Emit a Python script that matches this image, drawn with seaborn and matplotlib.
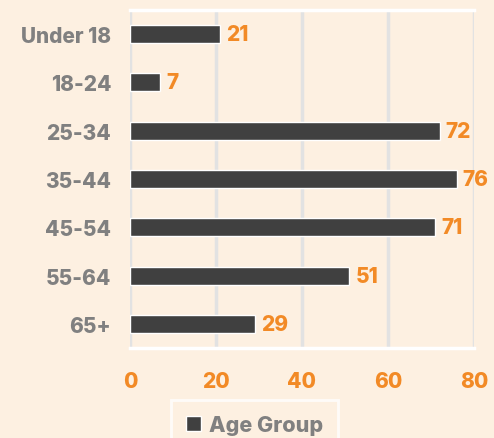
import pandas as pd
import numpy as np
import matplotlib.pyplot as plt
import seaborn as sns

# data
age_groups = ['Under 18', '18-24', '25-34', '35-44', '45-54', '55-64', '65+']
counts = [21, 7, 72, 76, 71, 51, 29]
x_ticks = [0, 20, 40, 60, 80]

bg = '#fdf0e1'
bar_color = '#404040'
orange = '#f28a26'
gray_text = '#808080'
grid_color = '#e2e2e2'

sns.set_theme(style='white')
plt.rcParams['font.family'] = ['Inter', 'DejaVu Sans']
fs = 15
fw = 'heavy'

df = pd.DataFrame({'Age': age_groups, 'Count': counts, 'Series': 'Age Group'})

fig = plt.figure(figsize=(4.94, 4.39), dpi=100, facecolor=bg)
ax = fig.add_axes([0.263, 0.205, 0.6965, 0.77])
ax.set_facecolor(bg)

sns.barplot(data=df, x='Count', y='Age', hue='Series', palette=[bar_color],
            width=0.375, edgecolor='white', linewidth=1, ax=ax, zorder=3)

# value labels
for i, val in enumerate(counts):
    ax.text(val + 1.4, i, str(val), color=orange, fontsize=fs, fontweight=fw,
            va='center', ha='left', zorder=4)

ax.set_xlim(0, 80)
ax.set_xticks(x_ticks)
ax.set_xticklabels([str(t) for t in x_ticks], color=orange, fontsize=fs, fontweight=fw)
ax.tick_params(axis='x', length=4, width=2.5, color=grid_color, pad=12.5)
ax.tick_params(axis='y', length=0, pad=13.5)
for lab in ax.get_yticklabels():
    lab.set_color(gray_text)
    lab.set_fontsize(fs)
    lab.set_fontweight(fw)

ax.xaxis.grid(True, color=grid_color, linewidth=2.5, zorder=0)
ax.yaxis.grid(False)
ax.set_axisbelow(True)

for side in ['left', 'right']:
    ax.spines[side].set_visible(False)
for side in ['top', 'bottom']:
    ax.spines[side].set_color('white')
    ax.spines[side].set_linewidth(2.5)
    ax.spines[side].set_zorder(2)

ax.set_xlabel('')
ax.set_ylabel('')

leg = ax.legend(loc='upper left', bbox_to_anchor=(0.119, -0.155), frameon=True,
                prop={'size': 15.5, 'weight': fw}, handlelength=0.7,
                handleheight=0.7, handletextpad=0.35, borderpad=0.7,
                borderaxespad=0, fancybox=False)
leg.get_frame().set_facecolor(bg)
leg.get_frame().set_edgecolor('white')
leg.get_frame().set_linewidth(2)
for t in leg.get_texts():
    t.set_color(gray_text)

fig.savefig('out.png', dpi=100, facecolor=bg)
